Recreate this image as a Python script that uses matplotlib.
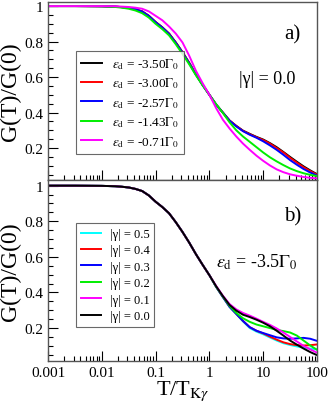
import numpy as np
import matplotlib
matplotlib.use("Agg")
import matplotlib.pyplot as plt
from matplotlib.ticker import LogLocator, MultipleLocator, NullFormatter, FixedLocator

plt.rcParams['font.family'] = ['Liberation Serif', 'DejaVu Serif']
plt.rcParams['mathtext.fontset'] = 'stix'

# log10(T/T_K) sample positions
logT = [-3, -2.5, -2, -1.75, -1.625, -1.5, -1.375, -1.25, -1.125, -1, -0.875,
        -0.75, -0.625, -0.5, -0.375, -0.25, -0.125, 0, 0.125, 0.25, 0.375,
        0.5, 0.625, 0.75, 0.875, 1.0, 1.125, 1.25, 1.375, 1.5, 1.625, 1.75,
        1.875, 2.0]

# Panel a: different eps_d, |gamma| = 0
eps_labels = ['-3.50', '-3.00', '-2.57', '-1.43', '-0.71']
eps_colors = ['black', 'red', 'blue', '#00ee00', 'magenta']
ga_350 = [1, 1, 0.999, 0.997, 0.994, 0.99, 0.982, 0.97, 0.945, 0.91, 0.88,
          0.845, 0.795, 0.74, 0.68, 0.615, 0.555, 0.5, 0.445, 0.40, 0.355,
          0.325, 0.298, 0.28, 0.263, 0.248, 0.228, 0.205, 0.178, 0.15, 0.123,
          0.097, 0.074, 0.053]
ga_300 = [1, 1, 0.999, 0.997, 0.994, 0.99, 0.982, 0.97, 0.945, 0.91, 0.88,
          0.845, 0.795, 0.74, 0.68, 0.615, 0.555, 0.5, 0.445, 0.40, 0.355,
          0.324, 0.297, 0.278, 0.261, 0.245, 0.225, 0.200, 0.175, 0.145, 0.118,
          0.092, 0.070, 0.050]
ga_257 = [1, 1, 0.999, 0.997, 0.994, 0.99, 0.982, 0.969, 0.944, 0.909, 0.879,
          0.843, 0.793, 0.738, 0.678, 0.613, 0.554, 0.5, 0.445, 0.40, 0.354,
          0.322, 0.295, 0.275, 0.258, 0.238, 0.215, 0.190, 0.162, 0.132, 0.106,
          0.082, 0.062, 0.045]
ga_143 = [1, 1, 0.999, 0.995, 0.991, 0.985, 0.975, 0.96, 0.935, 0.90, 0.87,
          0.835, 0.785, 0.73, 0.672, 0.61, 0.553, 0.5, 0.447, 0.398, 0.345,
          0.30, 0.265, 0.235, 0.205, 0.175, 0.148, 0.125, 0.104, 0.085, 0.07,
          0.058, 0.049, 0.042]
ga_071 = [1, 1, 1, 0.999, 0.997, 0.995, 0.991, 0.985, 0.97, 0.945, 0.92,
          0.885, 0.845, 0.795, 0.72, 0.635, 0.565, 0.5, 0.425, 0.36, 0.31,
          0.265, 0.225, 0.19, 0.157, 0.128, 0.102, 0.08, 0.064, 0.052, 0.044,
          0.037, 0.032, 0.029]
panel_a = [ga_350, ga_300, ga_257, ga_143, ga_071]

# Panel b: eps_d = -3.5, different |gamma|
gam_labels = ['0.5', '0.4', '0.3', '0.2', '0.1', '0.0']
gam_colors = ['cyan', 'red', 'blue', '#00ee00', 'magenta', 'black']
common_b = [1, 1, 0.999, 0.997, 0.994, 0.99, 0.982, 0.97, 0.945, 0.91, 0.88,
            0.845, 0.795, 0.74, 0.68, 0.615, 0.555, 0.497]
gb_05 = common_b + [0.431, 0.374, 0.318, 0.278, 0.237, 0.2, 0.18, 0.165,
                    0.147, 0.13, 0.115, 0.105, 0.097, 0.09, 0.085, 0.08]
gb_04 = common_b + [0.432, 0.375, 0.32, 0.28, 0.24, 0.205, 0.185, 0.17,
                    0.152, 0.135, 0.12, 0.11, 0.104, 0.102, 0.104, 0.108]
gb_03 = common_b + [0.432, 0.375, 0.32, 0.28, 0.24, 0.205, 0.185, 0.172,
                    0.16, 0.148, 0.142, 0.14, 0.142, 0.145, 0.14, 0.128]
gb_02 = common_b + [0.433, 0.378, 0.325, 0.285, 0.255, 0.235, 0.22, 0.21,
                    0.2, 0.19, 0.183, 0.175, 0.158, 0.13, 0.102, 0.078]
gb_01 = common_b + [0.437, 0.382, 0.335, 0.305, 0.285, 0.27, 0.253, 0.235,
                    0.218, 0.198, 0.175, 0.15, 0.125, 0.10, 0.08, 0.062]
gb_00 = common_b + [0.435, 0.38, 0.33, 0.298, 0.275, 0.262, 0.247, 0.23,
                    0.21, 0.185, 0.158, 0.13, 0.107, 0.085, 0.065, 0.048]
panel_b = [gb_05, gb_04, gb_03, gb_02, gb_01, gb_00]

T = [10.0 ** v for v in logT]

fig = plt.figure(figsize=(3.32, 4.10), dpi=100)
W, H = 332, 410
def ax_rect(x0, y0, x1, y1):
    return [x0 / W, 1 - y1 / H, (x1 - x0) / W, (y1 - y0) / H]

axa = fig.add_axes(ax_rect(48, 3, 317, 181))
axb = fig.add_axes(ax_rect(48, 181, 317, 362))

for ys, lab, c in zip(panel_a, eps_labels, eps_colors):
    axa.plot(T, ys, color=c, lw=1.4,
             label=r'$\varepsilon_{\mathrm{d}}$ = ' + lab + r'$\Gamma_0$')
for ys, lab, c in zip(panel_b, gam_labels, gam_colors):
    axb.plot(T, ys, color=c, lw=1.4, label='|γ| = ' + lab)

for ax, ylim in ((axa, (0.02, 1.023)), (axb, (0.015, 1.032))):
    ax.set_xscale('log')
    ax.set_xlim(1e-3, 1e2)
    ax.set_ylim(*ylim)
    ax.xaxis.set_major_locator(LogLocator(base=10, numticks=10))
    ax.xaxis.set_minor_locator(LogLocator(base=10, subs=np.arange(2, 10), numticks=20))
    ax.xaxis.set_minor_formatter(NullFormatter())
    ax.yaxis.set_major_locator(FixedLocator([0.2, 0.4, 0.6, 0.8, 1.0]))
    ax.yaxis.set_minor_locator(MultipleLocator(0.05))
    ax.set_yticklabels(['0.2', '0.4', '0.6', '0.8', '1'])
    ax.tick_params(which='both', direction='in', top=False, right=False,
                   labelsize=11, width=0.8)
    ax.tick_params(which='major', length=7)
    ax.tick_params(which='minor', length=3.5)
    for s in ax.spines.values():
        s.set_linewidth(1.0)
        s.set_color('#555555')
    ax.set_ylabel('G(T)/G(0)', fontsize=17, labelpad=2)

axa.tick_params(labelbottom=False)
axb.set_xticks([1e-3, 1e-2, 1e-1, 1, 10, 100])
axb.set_xticklabels(['0.001', '0.01', '0.1', '1', '10', '100'])
axb.set_xlabel(r'T/T$_{\mathrm{K}\gamma}$', fontsize=16, labelpad=0)

leg_a = axa.legend(loc='upper left', bbox_to_anchor=(0.104, 0.725), fontsize=9.5,
                   frameon=True, fancybox=False, edgecolor='#444444',
                   handlelength=1.6, handletextpad=0.7, labelspacing=0.35,
                   borderpad=0.4, borderaxespad=0)
leg_a.get_frame().set_linewidth(0.8)
leg_b = axb.legend(loc='upper left', bbox_to_anchor=(0.104, 0.762), fontsize=9,
                   frameon=True, fancybox=False, edgecolor='#444444',
                   handlelength=1.6, handletextpad=0.7, labelspacing=0.35,
                   borderpad=0.4, borderaxespad=0)
leg_b.get_frame().set_linewidth(0.8)

axa.text(0.91, 0.82, 'a)', transform=axa.transAxes, fontsize=15, ha='center', va='center')
axa.text(0.815, 0.57, '|γ| = 0.0', transform=axa.transAxes, fontsize=13, ha='center', va='center')
axb.text(0.91, 0.80, 'b)', transform=axb.transAxes, fontsize=15, ha='center', va='center')
axb.text(0.775, 0.55, r'$\varepsilon_{\mathrm{d}}$ = -3.5$\Gamma_0$', transform=axb.transAxes,
         fontsize=13, ha='center', va='center')

fig.savefig('out.png', dpi=100)
